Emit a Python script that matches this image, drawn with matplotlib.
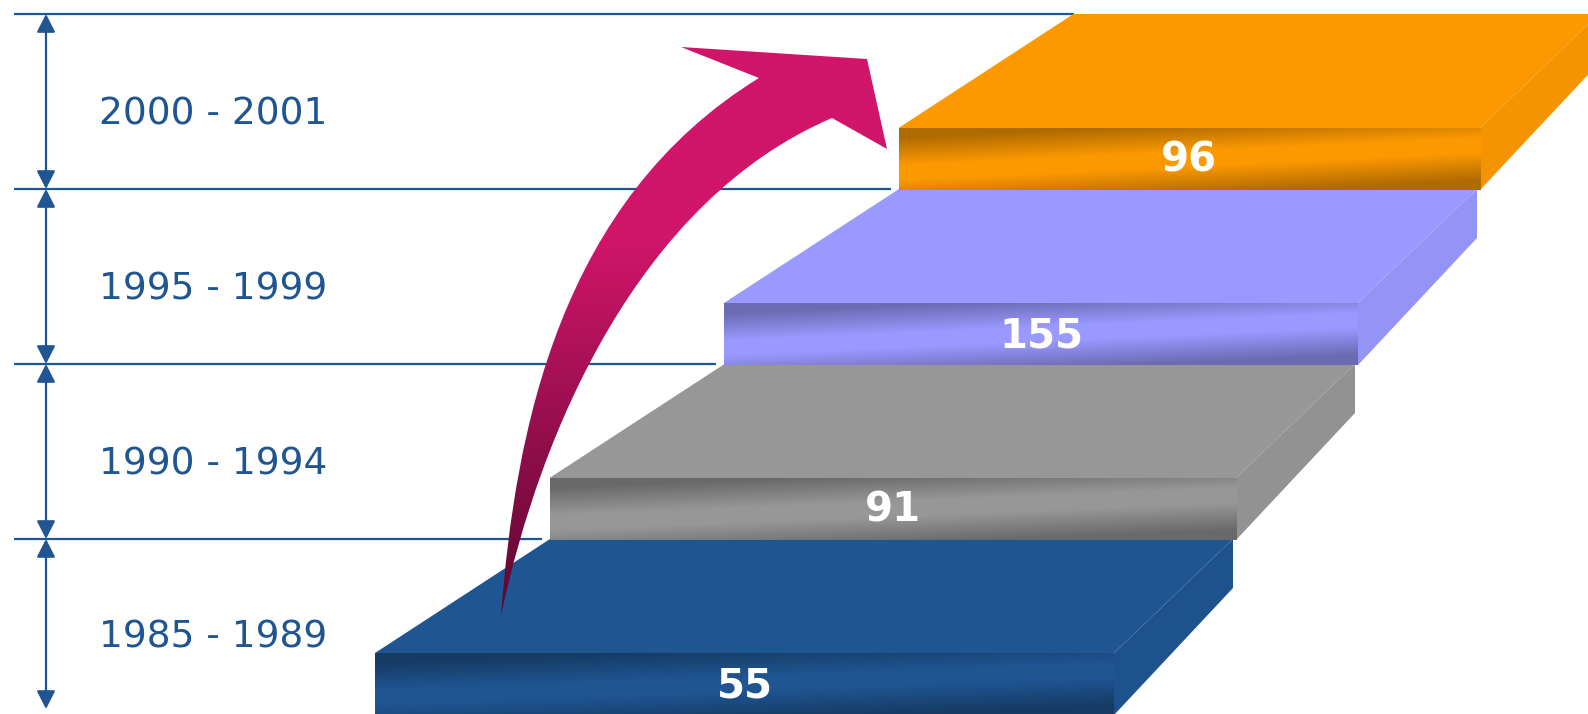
import numpy as np
import matplotlib.pyplot as plt
from matplotlib.patches import Polygon, PathPatch
from matplotlib.path import Path
from matplotlib.colors import to_rgb

# data (bottom step first)
periods = ['1985 - 1989', '1990 - 1994', '1995 - 1999', '2000 - 2001']
counts = [55, 91, 155, 96]
colors = ['#1F5591', '#979797', '#9999FF', '#FC9900']
line_color = '#1F5591'

# layout (pixels, y down)
W, H = 1588, 714
level_h = 175
base_back_y = 539      # back edge of bottom step top face
depth = 114            # top face depth
face_h = 62            # front face height
x_front0 = 375
step_dx = 174.5
width0 = 739
width_shrink = 52.5
back_dx_left = 175
back_dx_right = 119
side_back_h = 49

fig = plt.figure(figsize=(W / 100, H / 100), dpi=100)
ax = fig.add_axes([0, 0, 1, 1])


def shade(rgb, n_h=80, n_w=300, amount=0.3):
    u = np.linspace(0, 1, n_w)[None, :]
    v = np.linspace(0, 1, n_h)[:, None]
    s = v + 0.45 * (u - 0.5)
    f = np.clip((0.38 - s) / 0.45, 0, 1) + np.clip((s - 0.62) / 0.45, 0, 1)
    f = np.clip(f, 0, 1)
    img = np.array(rgb)[None, None, :] * (1 - amount * f[..., None])
    return img


line_ys = [base_back_y - i * level_h for i in range(4)][::-1]   # top to bottom

for i, (n, c) in enumerate(zip(counts, colors)):
    rgb = to_rgb(c)
    back_y = base_back_y - i * level_h
    ft = back_y + depth
    fb = ft + face_h
    fl = x_front0 + i * step_dx
    fr = fl + width0 - i * width_shrink
    bl = fl + back_dx_left
    br = fr + back_dx_right
    # top face
    ax.add_patch(Polygon([(fl, ft), (bl, back_y), (br, back_y), (fr, ft)],
                         closed=True, facecolor=c, edgecolor='none', zorder=3))
    # side face
    side = np.array(rgb) * 0.97
    ax.add_patch(Polygon([(fr, ft), (br, back_y), (br, back_y + side_back_h), (fr, fb)],
                         closed=True, facecolor=side, edgecolor='none', zorder=3))
    # front face with gradient
    ax.imshow(shade(rgb), extent=(fl, fr, fb, ft), aspect='auto',
              interpolation='bilinear', zorder=4)
    ax.text((fl + fr) / 2, (ft + fb) / 2 + 2, str(n), color='white', fontsize=29,
            fontweight='bold', ha='center', va='center', zorder=5)

# horizontal guide lines
for k, y in enumerate(line_ys):
    i = 3 - k  # step whose top back edge sits on this line
    if k == 0:
        xe = x_front0 + 3 * step_dx + back_dx_left
    else:
        xe = x_front0 + (i + 1) * step_dx - 8
    ax.plot([14, xe], [y, y], color=line_color, lw=1.6, zorder=1,
            solid_capstyle='butt')

# dimension arrows and period labels
bounds = line_ys + [709]
for k in range(4):
    ax.annotate('', xy=(46, bounds[k]), xytext=(46, bounds[k + 1]),
                arrowprops=dict(arrowstyle='<|-|>,head_length=0.55,head_width=0.28',
                                color=line_color, lw=1.6, mutation_scale=20,
                                shrinkA=0, shrinkB=0), zorder=2)
    label = periods[3 - k]
    ax.text(99, (bounds[k] + bounds[k + 1]) / 2 + 13, label, color=line_color,
            fontsize=27, ha='left', va='center', zorder=2)

# curved arrow
tip = (501, 616)
verts = [tip,
         (515, 430), (560, 200), (759, 78),   # outer edge
         (681, 47), (867, 59), (887, 149), (832, 118),
         (640, 200), (540, 430), tip]
codes = [Path.MOVETO,
         Path.CURVE4, Path.CURVE4, Path.CURVE4,
         Path.LINETO, Path.LINETO, Path.LINETO, Path.LINETO,
         Path.CURVE4, Path.CURVE4, Path.CURVE4]
arrow_path = Path(verts, codes)
clip = PathPatch(arrow_path, facecolor='none', edgecolor='none', zorder=6)
ax.add_patch(clip)
top_c = np.array(to_rgb('#D0156A'))
bot_c = np.array(to_rgb('#5C0830'))
yy = np.linspace(40, 620, 200)
t = np.clip((yy - 240) / (616 - 240), 0, 1)[:, None]
grad = (top_c * (1 - t) + bot_c * t)[:, None, :]
im = ax.imshow(grad, extent=(480, 900, 620, 40), aspect='auto',
               interpolation='bilinear', zorder=6)
im.set_clip_path(clip)

ax.set_xlim(0, W)
ax.set_ylim(H, 0)
ax.axis('off')
fig.savefig('out.png', dpi=100, facecolor='white')
